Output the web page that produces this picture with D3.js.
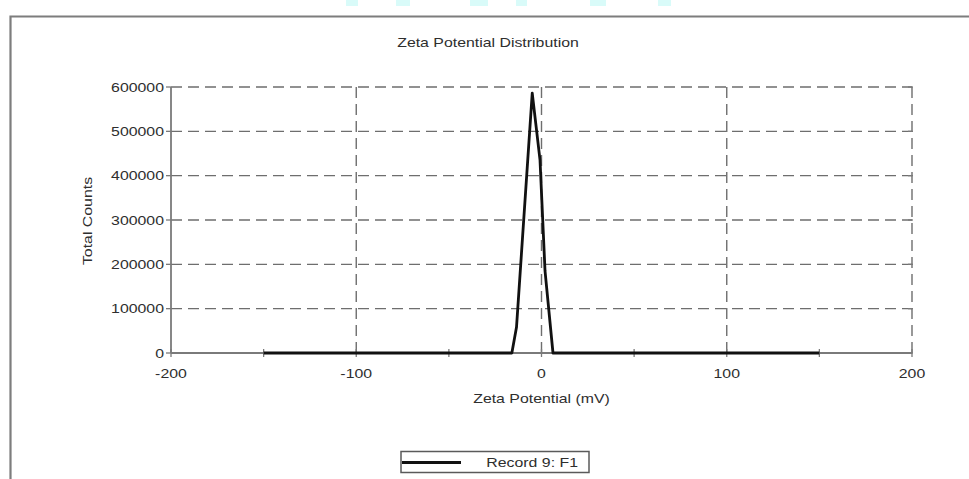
<!DOCTYPE html>
<html>
<head>
<meta charset="utf-8">
<script src="https://cdn.jsdelivr.net/npm/d3@7"></script>
<style>
  body { margin: 0; background: #fff; }
  svg { display: block; }
  text { font-family: Arial, "Liberation Sans", sans-serif; fill: #2e2e2e; }
</style>
</head>
<body>
<svg id="chart" width="969" height="479"></svg>
<script>
'use strict';

// data
var zeta = [-150, -16, -13.5, -5, -0.8, 1.9, 6.2, 150];      // mV
var counts = [0, 0, 58000, 586000, 435000, 185000, 0, 0];     // total counts
var xTicks = [-200, -100, 0, 100, 200];
var xMinor = [-150, -50, 50, 150];
var yTicks = [0, 100000, 200000, 300000, 400000, 500000, 600000];
var seriesName = "Record 9: F1";
var title = "Zeta Potential Distribution";
var xTitle = "Zeta Potential (mV)";
var yTitle = "Total Counts";

var W = 969, H = 479;
var margin = {top: 87, right: 57, bottom: 126, left: 171};
var sx = 1.22; // the original text is a bit wide, stretch it

var svg = d3.select("#chart");

var x = d3.scaleLinear().domain([-200, 200]).range([margin.left, W - margin.right]);
var y = d3.scaleLinear().domain([0, 600000]).range([H - margin.bottom, margin.top]);

// little cyan marks at the very top of the scan
var marks = [[346, 12], [396, 14], [470, 18], [516, 11], [590, 16], [658, 13]];
svg.selectAll("rect.wm").data(marks).enter().append("rect")
  .attr("class", "wm")
  .attr("x", function (d) { return d[0]; })
  .attr("y", 0)
  .attr("width", function (d) { return d[1]; })
  .attr("height", 6)
  .attr("fill", "#d9fbf9");

// outer frame (left + top only, the rest is cut off)
svg.append("path")
  .attr("d", "M10.5," + H + "V16.5H" + W)
  .attr("fill", "none")
  .attr("stroke", "#7d7d7d")
  .attr("stroke-width", 2.2);

function label(xp, yp, txt, anchor, rot) {
  var g = svg.append("g")
    .attr("transform", "translate(" + xp + "," + yp + ")" + (rot ? " rotate(" + rot + ")" : ""));
  g.append("text")
    .attr("transform", "scale(" + sx + ",1)")
    .attr("text-anchor", anchor)
    .attr("dy", "0.35em")
    .attr("font-size", 13)
    .text(txt);
  return g;
}

// dashed grid
var grid = svg.append("g").attr("stroke", "#6e6e6e").attr("stroke-width", 1.4)
  .attr("stroke-dasharray", "11,6").attr("fill", "none");

grid.selectAll("line.h").data(yTicks.slice(1)).enter().append("line")
  .attr("x1", x(-200)).attr("x2", x(200))
  .attr("y1", function (d) { return y(d); })
  .attr("y2", function (d) { return y(d); });

grid.selectAll("line.v").data(xTicks.slice(1)).enter().append("line")
  .attr("x1", function (d) { return x(d); })
  .attr("x2", function (d) { return x(d); })
  .attr("y1", y(600000)).attr("y2", y(0));

// axes
var ax = svg.append("g").attr("stroke", "#7a7a7a").attr("stroke-width", 1.8);
ax.append("line").attr("x1", x(-200)).attr("x2", x(200)).attr("y1", y(0)).attr("y2", y(0));
ax.append("line").attr("x1", x(-200)).attr("x2", x(-200)).attr("y1", y(0)).attr("y2", y(600000));

// x ticks cross the axis
ax.selectAll("line.xt").data(xTicks.concat(xMinor)).enter().append("line")
  .attr("x1", function (d) { return x(d); })
  .attr("x2", function (d) { return x(d); })
  .attr("y1", y(0) - 4).attr("y2", y(0) + 4)
  .attr("stroke-width", 1.3);

// y ticks
ax.selectAll("line.yt").data(yTicks).enter().append("line")
  .attr("x1", x(-200) - 5).attr("x2", x(-200))
  .attr("y1", function (d) { return y(d); })
  .attr("y2", function (d) { return y(d); })
  .attr("stroke-width", 1.3);
ax.selectAll("line.yr").data(yTicks).enter().append("line")
  .attr("x1", x(200) - 4).attr("x2", x(200) + 1)
  .attr("y1", function (d) { return y(d); })
  .attr("y2", function (d) { return y(d); })
  .attr("stroke-width", 1.3);

xTicks.forEach(function (d) { label(x(d), y(0) + 20, String(d), "middle"); });
yTicks.forEach(function (d) { label(x(-200) - 7, y(d), String(d), "end"); });

// the distribution
var line = d3.line()
  .x(function (d, i) { return x(zeta[i]); })
  .y(function (d, i) { return y(counts[i]); });

svg.append("path")
  .datum(zeta)
  .attr("d", line)
  .attr("fill", "none")
  .attr("stroke", "#111")
  .attr("stroke-width", 2.8)
  .attr("stroke-linejoin", "round");

// titles
label(488, 42, title, "middle");
label(x(0), 398, xTitle, "middle");
label(87, 221, yTitle, "middle", -90);

// legend
var leg = svg.append("g");
leg.append("rect")
  .attr("x", 401).attr("y", 451.5).attr("width", 188).attr("height", 21)
  .attr("fill", "#fff").attr("stroke", "#5a5a5a").attr("stroke-width", 1.5);
leg.append("line")
  .attr("x1", 402).attr("x2", 461).attr("y1", 462.5).attr("y2", 462.5)
  .attr("stroke", "#111").attr("stroke-width", 3);
label(578, 462, seriesName, "end");
</script>
</body>
</html>
